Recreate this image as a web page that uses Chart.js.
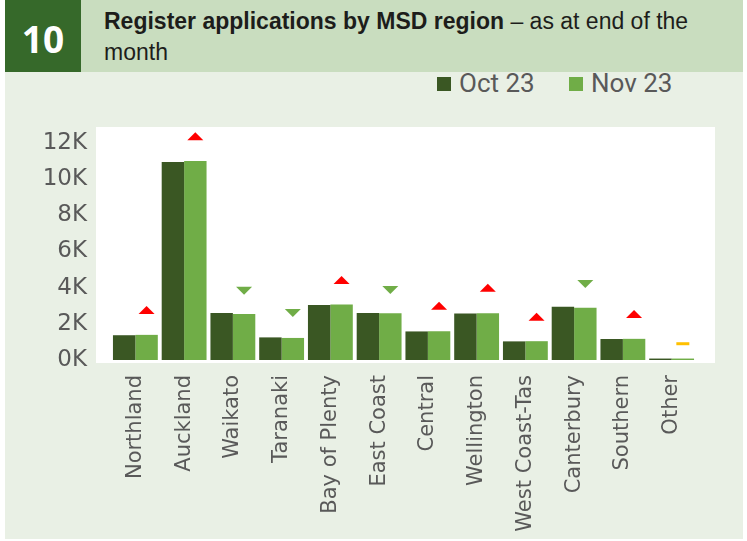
<!DOCTYPE html>
<html>
<head>
<meta charset="utf-8">
<script src="https://cdn.jsdelivr.net/npm/chart.js@4.4.1/dist/chart.umd.min.js"></script>
<style>
  html, body { margin: 0; padding: 0; background: #ffffff; }
  #wrap { position: relative; width: 747px; height: 541px; overflow: hidden; }
  #panel { position: absolute; left: 5px; top: 0; width: 738px; height: 539px; background: #E9F0E5; }
  #band { position: absolute; left: 5px; top: 0; width: 738px; height: 72px; background: #C9DDBF; }
  #num { position: absolute; left: 5px; top: 0; width: 76px; height: 72px; background: #36692A;
         color: #fff; font: bold 37px "Open Sans", sans-serif; text-align: center; line-height: 78px; }
  #title { position: absolute; left: 104px; top: 6px; width: 620px; color: #1d1d1b;
           font: 23px "Liberation Sans", Arial, sans-serif; line-height: 31px; }
  #title b { font-weight: bold; }
  #legend { position: absolute; top: 69px; left: 437px; height: 28px; font: 26px Roboto, sans-serif; color: #595959; white-space: nowrap; }
  .li { position: absolute; top: 0; }
  .sw { position: absolute; top: 8px; width: 14px; height: 14px; }
  .lt { position: absolute; left: 22px; top: 0; line-height: 28px; }
  #c { position: absolute; left: 0; top: 0; }
</style>
</head>
<body>
<div id="wrap">
  <div id="panel"></div>
  <div id="band"></div>
  <div id="num">10</div>
  <div id="title"><b>Register applications by MSD region</b> – as at end of the month</div>
  <div id="legend"></div>
  <canvas id="c" width="747" height="541"></canvas>
</div>
<script>
const categories = ['Northland','Auckland','Waikato','Taranaki','Bay of Plenty','East Coast','Central','Wellington','West Coast-Tas','Canterbury','Southern','Other'];
const seriesNames = ['Oct 23','Nov 23'];
const oct23 = [1370, 10950, 2600, 1250, 3040, 2600, 1580, 2570, 1030, 2950, 1160, 80];
const nov23 = [1390, 11010, 2540, 1220, 3070, 2580, 1590, 2590, 1040, 2890, 1170, 80];
const change = ['up','up','down','down','up','down','up','up','up','down','up','flat'];
const markerValues = [2760, 12380, 3830, 2600, 4420, 3870, 3000, 4000, 2390, 4200, 2540, 900];
const yTicks = [0, 2000, 4000, 6000, 8000, 10000, 12000];
const colors = ['#3A5723', '#70AD47'];

// HTML legend
const lg = document.getElementById('legend');
const legendOffsets = [0, 132];
seriesNames.forEach((n, i) => {
  const d = document.createElement('div');
  d.className = 'li';
  d.style.left = legendOffsets[i] + 'px';
  d.innerHTML = '<span class="sw" style="background:' + colors[i] + '"></span><span class="lt">' + n + '</span>';
  lg.appendChild(d);
});

const plotBg = {
  id: 'plotBg',
  beforeDraw(chart) {
    const a = chart.chartArea, ctx = chart.ctx;
    ctx.save();
    ctx.fillStyle = '#ffffff';
    ctx.fillRect(a.left - 15, a.top - 16, a.right - a.left + 34, a.bottom - a.top + 19);
    ctx.restore();
  }
};

const markers = {
  id: 'markers',
  afterDatasetsDraw(chart) {
    const ctx = chart.ctx, meta = chart.getDatasetMeta(1), ys = chart.scales.y;
    ctx.save();
    change.forEach((c, i) => {
      const x = meta.data[i].x, y = ys.getPixelForValue(markerValues[i]);
      ctx.beginPath();
      if (c === 'up') {
        ctx.fillStyle = '#FF0000';
        ctx.moveTo(x - 8, y + 4); ctx.lineTo(x + 8, y + 4); ctx.lineTo(x, y - 4);
        ctx.closePath(); ctx.fill();
      } else if (c === 'down') {
        ctx.fillStyle = '#70AD47';
        ctx.moveTo(x - 8, y - 4); ctx.lineTo(x + 8, y - 4); ctx.lineTo(x, y + 4);
        ctx.closePath(); ctx.fill();
      } else {
        ctx.fillStyle = '#FFC000';
        ctx.fillRect(x - 6.5, y - 1.5, 13, 3);
      }
    });
    ctx.restore();
  }
};

new Chart(document.getElementById('c'), {
  type: 'bar',
  data: {
    labels: categories,
    datasets: [
      { label: seriesNames[0], data: oct23, backgroundColor: colors[0], categoryPercentage: 0.92, barPercentage: 1.0 },
      { label: seriesNames[1], data: nov23, backgroundColor: colors[1], categoryPercentage: 0.92, barPercentage: 1.0 }
    ]
  },
  options: {
    responsive: false,
    animation: false,
    layout: { padding: { left: 0, right: 51, top: 143, bottom: 0 } },
    plugins: { legend: { display: false }, tooltip: { enabled: false } },
    scales: {
      x: {
        grid: { display: false },
        border: { display: false },
        ticks: { minRotation: 90, maxRotation: 90, autoSkip: false, padding: 7, color: '#595959',
                 font: { family: 'DejaVu Sans', size: 21 } },
        afterFit(s) { s.height = 181; }
      },
      y: {
        min: 0, max: 12000,
        afterBuildTicks(s) { s.ticks = yTicks.map(v => ({ value: v })); },
        grid: { display: false },
        border: { display: false },
        ticks: { padding: 16, color: '#595959', font: { family: 'DejaVu Sans', size: 23 },
                 callback: v => (v / 1000) + 'K' },
        afterFit(s) { s.width = 111; }
      }
    }
  },
  plugins: [plotBg, markers]
});
</script>
</body>
</html>
